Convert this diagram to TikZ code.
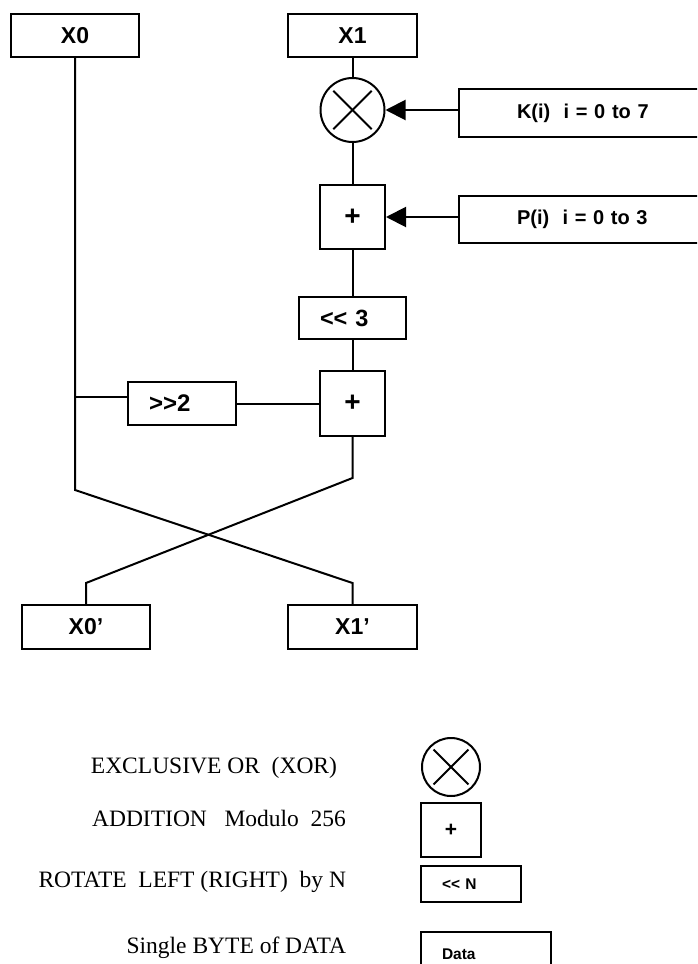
\documentclass[tikz,border=0pt]{standalone}
\usepackage{fontspec}
\setmainfont{Liberation Serif}
\newfontfamily\boxfont{Liberation Sans}
\usetikzlibrary{positioning,arrows.meta,calc}

\tikzset{
  blk/.style={draw, rectangle, inner sep=0pt, font=\boxfont\bfseries\fontsize{23pt}{23pt}\selectfont},
  lblk/.style={blk, align=left, inner xsep=21pt},
  small/.style={font=\boxfont\bfseries\fontsize{15.5pt}{15.5pt}\selectfont},
  plus/.style={font=\boxfont\bfseries\fontsize{28pt}{28pt}\selectfont},
  xorgate/.style={draw, circle, inner sep=0pt, path picture={
    \draw ($(path picture bounding box.north west)!0.2!(path picture bounding box.south east)$) -- ($(path picture bounding box.north west)!0.8!(path picture bounding box.south east)$);
    \draw ($(path picture bounding box.north east)!0.2!(path picture bounding box.south west)$) -- ($(path picture bounding box.north east)!0.8!(path picture bounding box.south west)$);}},
  legtxt/.style={anchor=base east, inner sep=0pt, font=\fontsize{23.5pt}{23.5pt}\selectfont},
  arr/.style={-{Triangle[length=20pt,width=20pt]}}
}

\begin{document}
\begin{tikzpicture}[x=1pt, y=-1pt, line width=2pt]
\useasboundingbox (0,0) rectangle (697,964);
\clip (0,0) rectangle (697,964);

% round
\node[blk, minimum width=128pt, minimum height=43pt] (x0) at (75,35.5) {X0};
\node[blk, minimum width=129pt, minimum height=43pt] (x1) at (352.5,35.5) {X1};
\node[xorgate, minimum size=64pt] (xor) at (352.5,110) {};
\node[lblk, inner xsep=58pt, text width=145pt, minimum height=48pt, font=\boxfont\bfseries\fontsize{20pt}{20pt}\selectfont] (kbox) at (589.5,113) {K(i)~~i = 0 to 7};
\node[lblk, inner xsep=58pt, text width=145pt, minimum height=47pt, font=\boxfont\bfseries\fontsize{20pt}{20pt}\selectfont] (pbox) at (589.5,219.5) {P(i)~~i = 0 to 3};
\node[blk, plus, minimum width=65pt, minimum height=64pt] (add1) at (352.5,217) {+};
\node[lblk, text width=65pt, minimum height=42pt, font=\boxfont\bfseries\fontsize{23.5pt}{23.5pt}\selectfont] (rot3) at (352.5,318) {<< 3};
\node[blk, plus, minimum width=65pt, minimum height=65pt] (add2) at (352.5,403.5) {+};
\node[lblk, text width=66pt, minimum height=43pt, font=\boxfont\bfseries\fontsize{24pt}{24pt}\selectfont] (shr2) at (182,403.5) {>>2};
\node[blk, minimum width=128pt, minimum height=44pt] (x0p) at (86,627) {X0’};
\node[blk, minimum width=129pt, minimum height=44pt] (x1p) at (352.5,627) {X1’};

\coordinate (j0) at (75,397);
\coordinate (l0) at (75,490);
\coordinate (r0) at (352.5,478);
\coordinate (kl) at (86,583);
\coordinate (kr) at (352.5,583);

\draw (x1) -- (xor) -- (add1) -- (rot3) -- (add2);
\draw[arr] (kbox.west |- xor) -- (xor);
\draw[arr] (pbox.west |- add1) -- (add1);
\draw (j0) -- (j0 -| shr2.west);
\draw (shr2) -- (add2);
\draw (x0) -- (l0) -- (kr) -- (x1p);
\draw (add2) -- (r0) -- (kl) -- (x0p);

% legend
\node[xorgate, minimum size=58pt] (lxor) at (451,767) {};
\node[blk, minimum width=60pt, minimum height=54pt, font=\boxfont\bfseries\fontsize{21pt}{21pt}\selectfont] (ladd) at (451,830) {+};
\node[lblk, small, text width=58pt, minimum height=36pt] (lrot) at (471,884) {<< N};
\node[lblk, small, text width=88pt, minimum height=44pt] (ldata) at (486,954) {Data};

\node[legtxt] (txor) at (338,773) {EXCLUSIVE OR~~(XOR)};
\node[legtxt] (tadd) at (347,826) {ADDITION~~~Modulo~~256};
\node[legtxt] (trot) at (347,887) {ROTATE~~LEFT (RIGHT)~~by N};
\node[legtxt] (tdata) at (347,953) {Single BYTE of DATA};

\end{tikzpicture}
\end{document}
